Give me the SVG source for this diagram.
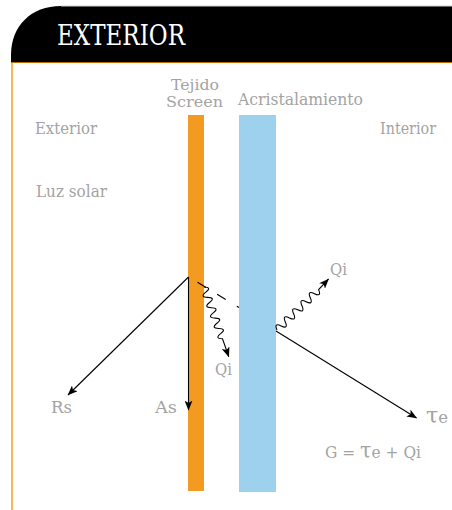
<svg xmlns="http://www.w3.org/2000/svg" width="452" height="510" viewBox="0 0 452 510">
<style>
.lbl{font-family:"DejaVu Serif","Liberation Serif",serif;font-size:16.5px;fill:#a3a3a3}
.sm{font-size:15px}
.ray{fill:none;stroke:#000;stroke-width:1.1}
</style>
<defs>
<marker id="ah" markerWidth="10" markerHeight="8" refX="9.5" refY="4" orient="auto" markerUnits="userSpaceOnUse">
<path d="M0,0 L10,4 L0,8 L2.5,4 Z" fill="#000"/>
</marker>
</defs>
<rect width="452" height="510" fill="#fff"/>
<g id="header">
<path d="M11,63 L11,55 C11,26 31,6 61,6 L452,6 L452,63 Z" fill="#000"/>
<line x1="61" y1="6" x2="452" y2="6" stroke="#cfcfcf" stroke-width="1"/>
<line x1="11" y1="62.5" x2="452" y2="62.5" stroke="#c06a00" stroke-width="1"/>
<text x="57" y="45" font-family="'DejaVu Serif','Liberation Serif',serif" font-size="27" fill="#fff" textLength="128" lengthAdjust="spacingAndGlyphs">EXTERIOR</text>
</g>
<line x1="12" y1="63" x2="12" y2="510" stroke="#f7a21b" stroke-width="1.5"/>
<g id="screen">
<rect x="188" y="115" width="16" height="376" fill="#f39a21"/>
<text class="lbl sm" x="171" y="90" textLength="48" lengthAdjust="spacingAndGlyphs">Tejido</text>
<text class="lbl sm" x="166" y="107" textLength="57" lengthAdjust="spacingAndGlyphs">Screen</text>
</g>
<g id="glazing">
<rect x="239" y="115" width="37" height="377" fill="#9dd1ee"/>
<text class="lbl" x="238" y="105" textLength="125" lengthAdjust="spacingAndGlyphs">Acristalamiento</text>
</g>
<g id="labels">
<text class="lbl" x="35" y="134" textLength="62" lengthAdjust="spacingAndGlyphs">Exterior</text>
<text class="lbl" x="380" y="134" textLength="56" lengthAdjust="spacingAndGlyphs">Interior</text>
<text class="lbl" x="36" y="197" textLength="71" lengthAdjust="spacingAndGlyphs">Luz solar</text>
<text class="lbl" x="51" y="413" textLength="21" lengthAdjust="spacingAndGlyphs">Rs</text>
<text class="lbl" x="155" y="413" textLength="22" lengthAdjust="spacingAndGlyphs">As</text>
<text class="lbl" x="215" y="375" textLength="17" lengthAdjust="spacingAndGlyphs">Qi</text>
<text class="lbl" x="330" y="275" textLength="17" lengthAdjust="spacingAndGlyphs">Qi</text>
<text class="lbl" x="426" y="423"><tspan font-size="22">τ</tspan>e</text>
<text class="lbl" x="325" y="458" textLength="96" lengthAdjust="spacingAndGlyphs">G = <tspan font-size="22">τ</tspan>e + Qi</text>
</g>
<g id="connectors">
<line class="ray" x1="188.5" y1="277" x2="68" y2="395" marker-end="url(#ah)"/>
<line class="ray" x1="188.5" y1="277" x2="188.5" y2="410" marker-end="url(#ah)"/>
<line class="ray" x1="197.5" y1="282.3" x2="239" y2="307.5" stroke-dasharray="10 13"/>
<line class="ray" x1="276" y1="331" x2="416.5" y2="418" marker-end="url(#ah)"/>
<path class="ray" d="M204,287 q8.2,0.24 1.85,5.18 t1.85,5.18 t1.85,5.18 t1.85,5.18 t1.85,5.18 t1.85,5.18 t1.85,5.18 t1.85,5.18 t1.85,5.18 t1.85,5.18 l6.3,17.9" marker-end="url(#ah)"/>
<path class="ray" d="M277,330 q-3.3,-7.6 4.16,-4.04 t4.16,-4.04 t4.16,-4.04 t4.16,-4.04 t4.16,-4.04 t4.16,-4.04 t4.16,-4.04 t4.16,-4.04 t4.16,-4.04 t4.16,-4.04 l9.9,-10.6" marker-end="url(#ah)"/>
</g>
</svg>
